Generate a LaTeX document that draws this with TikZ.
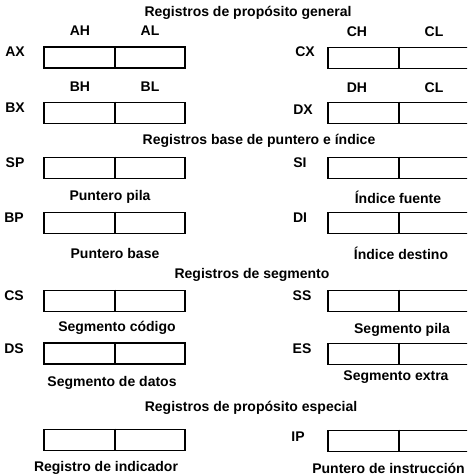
\documentclass[tikz,border=0pt]{standalone}
\usepackage{fontspec}
\setmainfont{Liberation Sans}
\usetikzlibrary{positioning}

\begin{document}
\begin{tikzpicture}[
  x=1pt,y=-1pt,
  every node/.style={font=\fontsize{14}{16}\selectfont\bfseries,inner sep=1pt},
  reg/.style={draw,line width=1.6pt,minimum width=141pt,minimum height=21pt,inner sep=0pt},
  divline/.style={line width=1.6pt}
]
\clip (0,0) rectangle (467,475);
% registros de proposito general
\node (tgen) at (248,13) {Registros de propósito general};
\node[reg] (ax) at (114.5,57.5) {};
\node[reg] (bx) at (114.5,113) {};
\node[reg] (cx) at (398.5,58) {};
\node[reg] (dx) at (398.5,113) {};
\node (ah) at (80,31) {AH};
\node (al) at (150,31) {AL};
\node (bh) at (80,87) {BH};
\node (bl) at (150,87) {BL};
\node (ch) at (357,32) {CH};
\node (cl) at (434,32) {CL};
\node (dh) at (357,88) {DH};
\node (dl) at (434,88) {CL};
\node (lax) at (15,52) {AX};
\node (lbx) at (15,108) {BX};
\node (lcx) at (305,52) {CX};
\node (ldx) at (303,110) {DX};
% registros base de puntero e indice
\node (tbase) at (259,141) {Registros base de puntero e índice};
\node[reg] (sp) at (114.5,168) {};
\node[reg] (bp) at (114.5,223) {};
\node[reg] (si) at (398.5,168) {};
\node[reg] (di) at (398.5,223) {};
\node (lsp) at (15,163) {SP};
\node (lbp) at (14,218) {BP};
\node (lsi) at (300,163) {SI};
\node (ldi) at (300,218) {DI};
\node (csp) at (110,197) {Puntero pila};
\node (cbp) at (115,253) {Puntero base};
\node (csi) at (398,197) {Índice fuente};
\node (cdi) at (401,253) {Índice destino};
% registros de segmento
\node (tseg) at (252,275) {Registros de segmento};
\node[reg] (cs) at (114.5,301) {};
\node[reg] (ds) at (114.5,353.5) {};
\node[reg] (ss) at (398.5,301) {};
\node[reg] (es) at (398.5,354) {};
\node (lcs) at (14,296) {CS};
\node (lds) at (14,349) {DS};
\node (lss) at (302,296) {SS};
\node (les) at (302,349) {ES};
\node (ccs) at (117,328) {Segmento código};
\node (cds) at (112,383) {Segmento de datos};
\node (css) at (402,330) {Segmento pila};
\node (ces) at (396,377) {Segmento extra};
% registros de proposito especial
\node (tesp) at (251,408) {Registros de propósito especial};
\node[reg] (fl) at (114.5,440) {};
\node[reg] (ip) at (398.5,441) {};
\node (lip) at (298,437) {IP};
\node (cfl) at (106,468) {Registro de indicador};
\node[anchor=east] (cip) at (466,468) {Puntero de instrucción};
\foreach \r in {ax,bx,cx,dx,sp,bp,si,di,cs,ds,ss,es,fl,ip}
  \draw[divline] ([xshift=72pt]\r.north west) -- ([xshift=72pt]\r.south west);
\end{tikzpicture}
\end{document}
